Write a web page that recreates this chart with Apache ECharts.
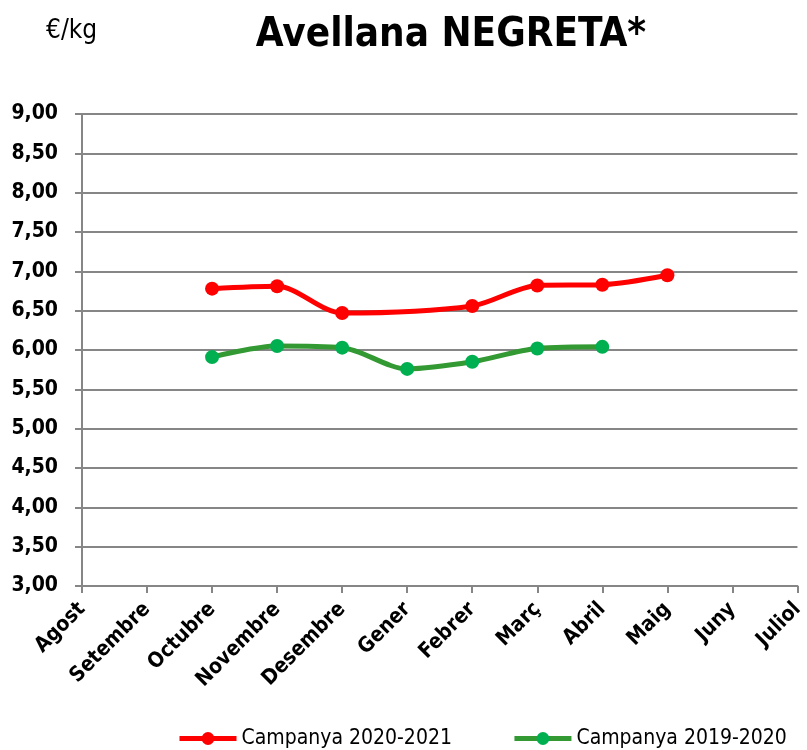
<!DOCTYPE html>
<html>
<head>
<meta charset="utf-8">
<script src="https://cdn.jsdelivr.net/npm/echarts@6/dist/echarts.min.js"></script>
<style>
  html, body { margin: 0; padding: 0; background: #fff; }
  #main { width: 807px; height: 750px; }
</style>
</head>
<body>
<div id="main"></div>
<script>
// mesos de campanya (eix x)
var mesos = ['Agost', 'Setembre', 'Octubre', 'Novembre', 'Desembre', 'Gener', 'Febrer', 'Març', 'Abril', 'Maig', 'Juny', 'Juliol'];
// preus €/kg
var campanya2021 = [null, null, 6.78, 6.81, 6.47, null, 6.56, 6.82, 6.83, 6.95, null, null];
var campanya2020 = [null, null, 5.91, 6.05, 6.03, 5.76, 5.85, 6.02, 6.04, null, null, null];
var nomSeries = ['Campanya 2020-2021', 'Campanya 2019-2020'];

var font = '"Liberation Sans Narrow", "DejaVu Sans Condensed", "Liberation Sans", sans-serif';

var myChart = echarts.init(document.getElementById('main'));

var option = {
  animation: false,
  textStyle: { fontFamily: font },
  title: [
    {
      text: 'Avellana NEGRETA*',
      left: 446, top: 11, textAlign: 'center',
      textStyle: { fontSize: 40, fontWeight: 'bold', color: '#000', fontFamily: font }
    },
    {
      text: '€/kg',
      left: 41, top: 13,
      textStyle: { fontSize: 26, fontWeight: 'normal', color: '#000', fontFamily: font }
    }
  ],
  legend: {
    bottom: -4,
    left: 172,
    itemWidth: 57,
    itemHeight: 16,
    itemGap: 60,
    data: nomSeries,
    lineStyle: { width: 5 },
    textStyle: { fontSize: 21, color: '#000', fontFamily: font }
  },
  grid: { left: 82, right: 5, top: 114, bottom: 164 },
  xAxis: {
    type: 'category',
    boundaryGap: false,
    data: mesos,
    axisLine: { lineStyle: { color: '#868686', width: 2 } },
    axisTick: { show: true, length: 7, alignWithLabel: true, lineStyle: { color: '#868686', width: 2 } },
    axisLabel: { rotate: 45, fontSize: 21, fontWeight: 'bold', color: '#000', margin: 20, interval: 0 },
    splitLine: { show: false }
  },
  yAxis: {
    type: 'value',
    min: 3, max: 9, interval: 0.5,
    axisLine: { show: true, lineStyle: { color: '#868686', width: 2 } },
    axisTick: { show: true, length: 7, lineStyle: { color: '#868686', width: 2 } },
    axisLabel: {
      fontSize: 21, fontWeight: 'bold', color: '#000', margin: 24,
      formatter: function (v) { return v.toFixed(2).replace('.', ','); }
    },
    splitLine: { lineStyle: { color: '#868686', width: 2 } }
  },
  series: [
    {
      name: nomSeries[0],
      type: 'line',
      data: campanya2021,
      connectNulls: true,
      smooth: 0.3,
      symbol: 'circle',
      symbolSize: 14,
      lineStyle: { color: '#ff0000', width: 5 },
      itemStyle: { color: '#ff0000' }
    },
    {
      name: nomSeries[1],
      type: 'line',
      data: campanya2020,
      connectNulls: true,
      smooth: 0.3,
      symbol: 'circle',
      symbolSize: 14,
      lineStyle: { color: '#339933', width: 5 },
      itemStyle: { color: '#00b050' }
    }
  ]
};

myChart.setOption(option);
</script>
</body>
</html>
